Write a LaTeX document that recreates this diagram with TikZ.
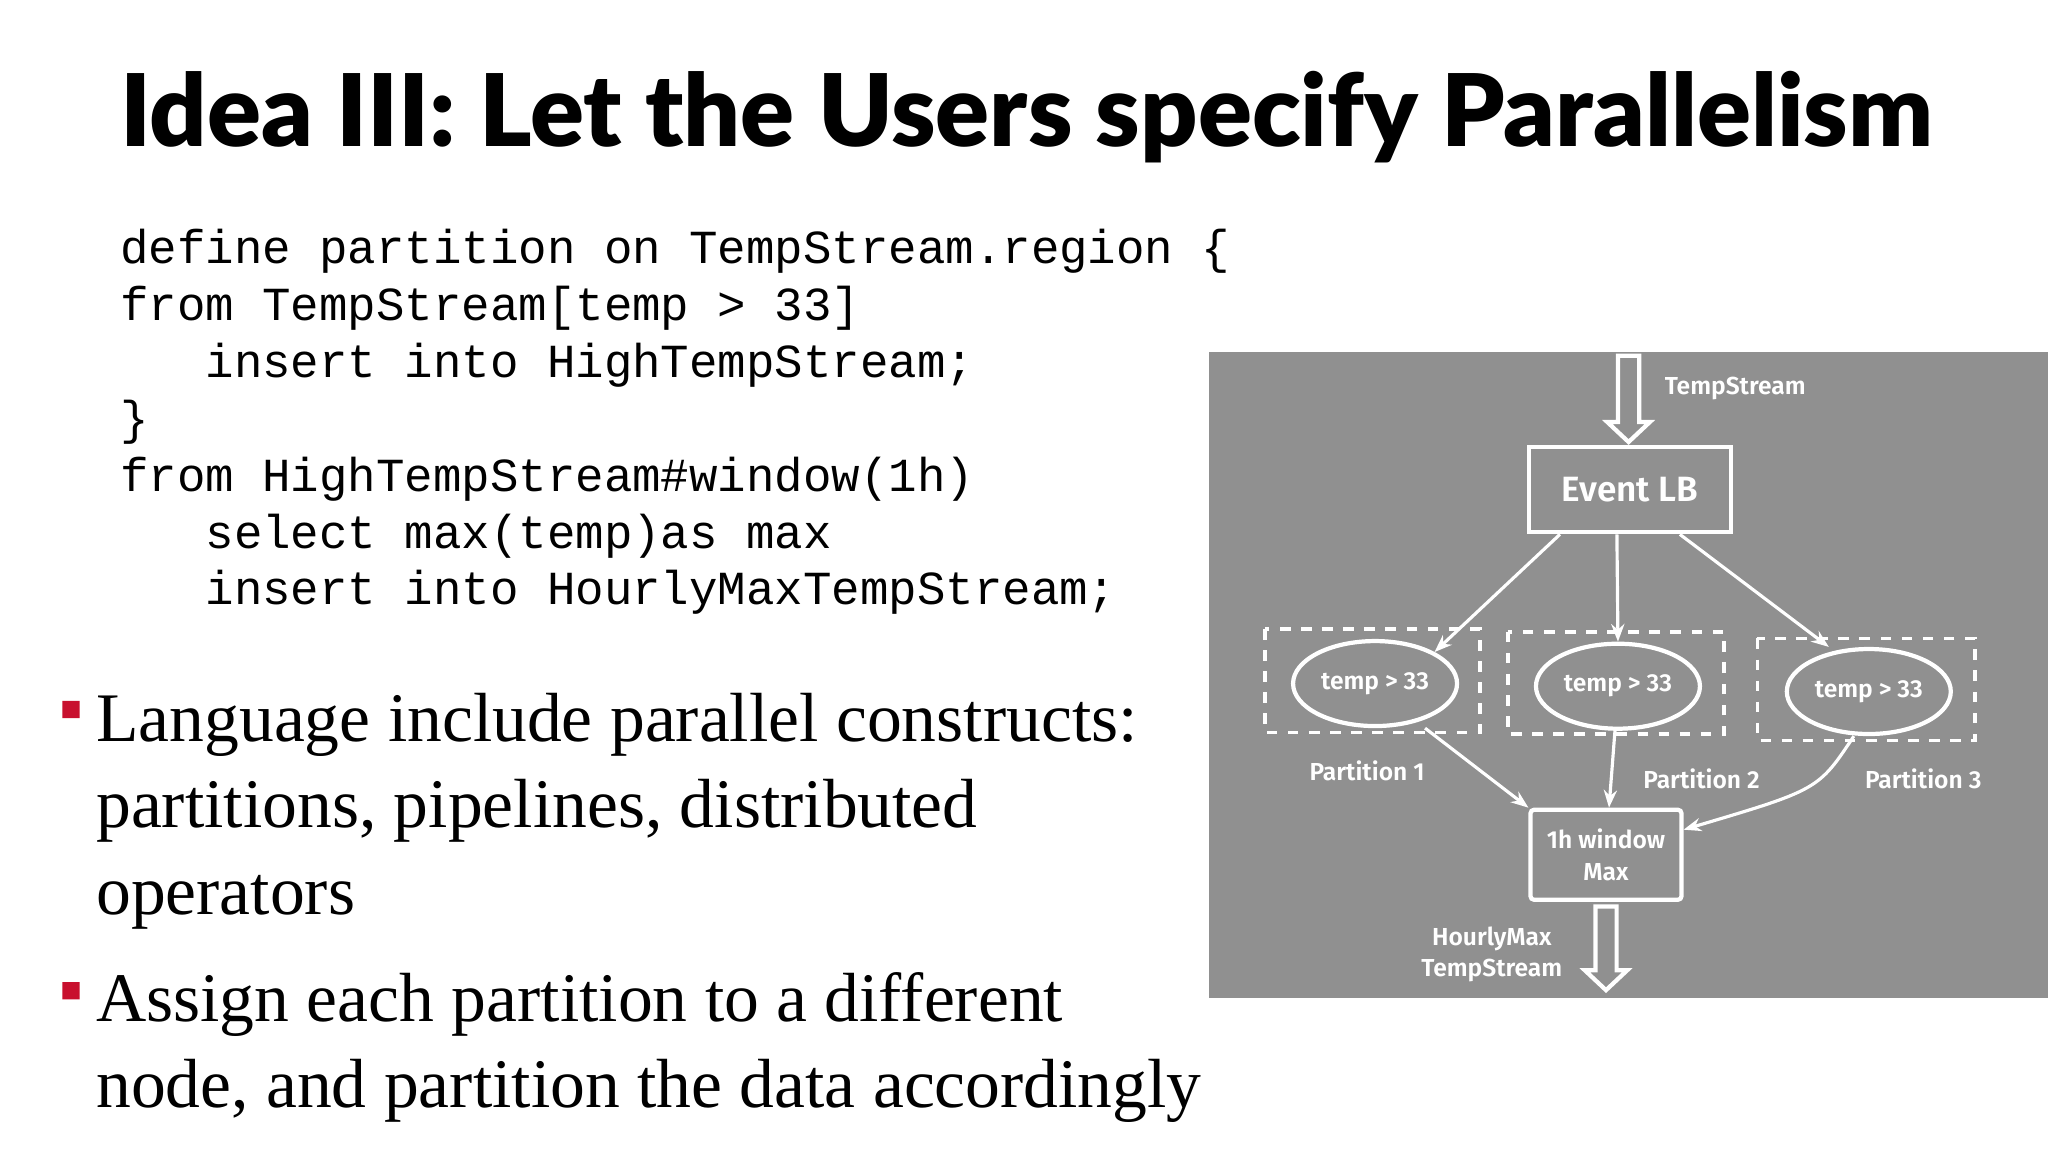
\documentclass[tikz,border=0pt]{standalone}
\usepackage{fontspec}
\setmainfont{Liberation Serif}
\newfontfamily\titlefont{Lato Black}
\newfontfamily\codefont{Liberation Mono}
\newfontfamily\diafont{Fira Sans SemiBold}
\usetikzlibrary{shapes.geometric,arrows.meta}
\definecolor{panel}{HTML}{909090}
\definecolor{bulletred}{HTML}{C8102E}
\tikzset{
  dia/.style={font=\diafont\fontsize{10}{12}\selectfont, text=white},
  small/.style={font=\diafont\fontsize{7}{9}\selectfont, text=white},
  wbox/.style={draw=white, line width=1.2pt},
  dbox/.style={draw=white, dashed, line width=1pt},
  ell/.style={draw=white, line width=1.2pt, ellipse, inner sep=0, minimum width=1.64cm, minimum height=0.85cm},
  flow/.style={draw=white, line width=0.9pt, -{Stealth[length=5pt]}},
  hollow/.style={draw=white, line width=1.2pt, fill=panel},
}
\begin{document}
\begin{tikzpicture}[x=0.01327cm,y=-0.01327cm]
\useasboundingbox (0,0) rectangle (1543,868);
\fill[white] (0,0) rectangle (1543,868);
% title
\node[anchor=base west, inner sep=0, font=\titlefont\fontsize{28.5}{32}\selectfont] (title) at (90,110) {Idea III: Let the Users specify Parallelism};
% code
\node[anchor=north west, inner sep=0, align=left, font=\codefont\fontsize{13.5}{16.2}\selectfont] (code) at (90,172) {define partition on TempStream.region \{\\
from TempStream[temp > 33]\\
\ \ \ insert into HighTempStream;\\
\}\\
from HighTempStream\#window(1h)\\
\ \ \ select max(temp)as max\\
\ \ \ insert into HourlyMaxTempStream;};
% bullets
\fill[bulletred] (47,528) rectangle (60,541) (47,740) rectangle (60,753);
\node[anchor=north west, inner sep=0, align=left, font=\fontsize{19.8}{24.5}\selectfont] (b1) at (72,522) {Language include parallel constructs:\\ partitions, pipelines, distributed\\ operators};
\node[anchor=north west, inner sep=0, align=left, font=\fontsize{19.8}{24.5}\selectfont] (b2) at (72,732) {Assign each partition to a different\\ node, and partition the data accordingly};
% panel
\fill[panel] (911,265) rectangle (1543,752);
% hollow arrows
\draw[hollow] (1219,268) -- (1235,268) -- (1235,318) -- (1243,318) -- (1227,333) -- (1211,318) -- (1219,318) -- cycle;
\draw[hollow] (1202,683) -- (1218,683) -- (1218,731) -- (1226,731) -- (1210,746) -- (1194,731) -- (1202,731) -- cycle;
\node[small, anchor=west] (ts) at (1245,293) {TempStream};
% nodes
\node[wbox, dia, minimum width=2.02cm, minimum height=0.85cm] (lb) at (1228,369) {Event LB};
\draw[dbox] (953,474) rectangle (1115,552);
\draw[dbox] (1136,476) rectangle (1299,553);
\draw[dbox] (1324,481) rectangle (1488,558);
\node[ell, small] (e1) at (1036,515) {temp > 33};
\node[ell, small] (e2) at (1219,517) {temp > 33};
\node[ell, small] (e3) at (1408,521) {temp > 33};
\node[small] (p1) at (1030,581) {Partition 1};
\node[small] (p2) at (1282,587) {Partition 2};
\node[small] (p3) at (1449,587) {Partition 3};
\node[wbox, small, align=center, rounded corners=1pt, minimum width=1.51cm, minimum height=0.9cm] (win) at (1210,644) {1h window\\Max};
\node[small, align=center] (hm) at (1124,719) {HourlyMax\\TempStream};
% connectors
\draw[flow] ([xshift=-0.7cm]lb.south) -- (e1.north east);
\draw[flow] ([xshift=-0.13cm]lb.south) -- (e2.north);
\draw[flow] ([xshift=0.5cm]lb.south) -- ([xshift=-0.4cm]e3.north);
\draw[flow] ([xshift=0.5cm]e1.south) -- (win.north west);
\draw[flow] ([xshift=-0.03cm]e2.south) -- ([xshift=0.03cm]win.north);
\draw[flow] ([xshift=-0.15cm]e3.south) .. controls (1370,595) .. ([yshift=-0.22cm]win.north east);
\end{tikzpicture}
\end{document}
